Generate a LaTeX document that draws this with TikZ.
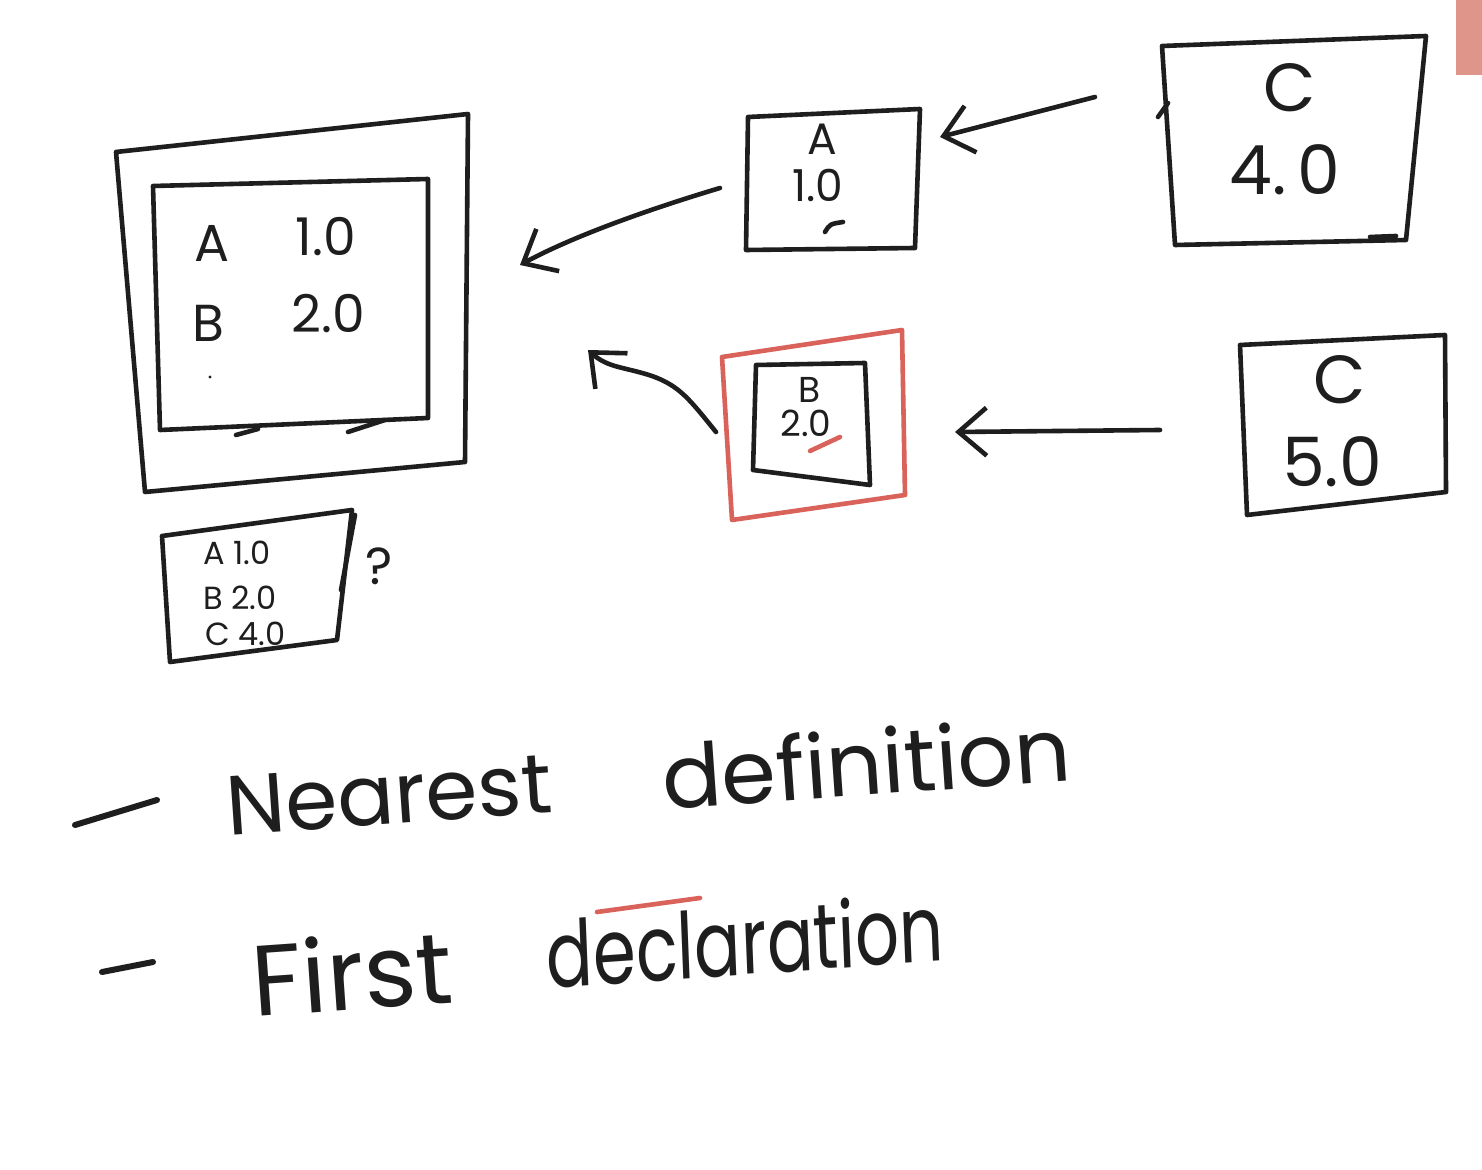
\documentclass[tikz,border=0pt]{standalone}
\usepackage{fontspec}
\setmainfont{Poppins}
\usetikzlibrary{arrows.meta}
\definecolor{redline}{HTML}{D9625A}
\definecolor{pinktab}{HTML}{E0958A}
\definecolor{inkc}{HTML}{1E1E1E}
\begin{document}
\begin{tikzpicture}[x=0.5pt,y=-0.5pt,
  ink/.style={line width=2.3pt, line cap=round, line join=round, draw=inkc},
  redink/.style={line width=2.3pt, line cap=round, line join=round, draw=redline},
  hw/.style={font=\fontsize{26}{28}\selectfont, text=inkc, inner sep=0pt},
  hwmid/.style={font=\fontsize{22}{24}\selectfont, text=inkc, inner sep=0pt},
  hwb/.style={font=\fontsize{18}{20}\selectfont, text=inkc, inner sep=0pt},
  hwbig/.style={font=\fontsize{34}{36}\selectfont, text=inkc, inner sep=0pt},
  hwsmall/.style={font=\fontsize{16}{18}\selectfont, text=inkc, inner sep=0pt},
  hwline/.style={text=inkc, inner sep=0pt},
  barb/.style={-{Straight Barb[length=14pt,width=24pt,line width=2.3pt]}}
]
\useasboundingbox[fill=white] (0,0) rectangle (1482,1170);
% pink tab at top right
\fill[pinktab] (1456,0) rectangle (1482,75);

% ---------- big outer box with inner table ----------
\coordinate (o1) at (116,152); \coordinate (o2) at (468,114);
\coordinate (o3) at (465,462); \coordinate (o4) at (145,492);
\draw[ink] (o1) -- (o2) -- (o3) -- (o4) -- cycle;
\coordinate (i1) at (153,186); \coordinate (i2) at (428,179);
\coordinate (i3) at (428,418); \coordinate (i4) at (160,430);
\draw[ink] (i1) -- (i2) -- (i3) -- (i4) -- cycle;
\draw[ink] (236,435) -- (258,429);
\draw[ink] (348,432) -- (385,420);
\node[hw] (tA) at (212,243) {A};
\node[hw] (tA1) at (326,237) {1.0};
\node[hw] (tB) at (208,323) {B};
\node[hw] (tB2) at (328,314) {2.0};
\fill[inkc] (210,377) circle (1.6);
\coordinate (bigin) at (520,265);
\coordinate (bigin2) at (588,350);

% ---------- box A ----------
\coordinate (a1) at (748,117); \coordinate (a2) at (920,109);
\coordinate (a3) at (915,248); \coordinate (a4) at (746,250);
\draw[ink] (a1) -- (a2) -- (a3) -- (a4) -- cycle;
\node[hwmid] (boxA) at (822,139) {A};
\node[hwmid] (boxA1) at (818,185) {1.0};
\draw[ink] (825,232) .. controls (830,224) .. (843,222);
\coordinate (aleft) at (720,188);
\coordinate (aright) at (940,137);

% ---------- box C (4.0) ----------
\coordinate (c1) at (1162,46); \coordinate (c2) at (1426,36);
\coordinate (c3) at (1406,240); \coordinate (c4) at (1175,245);
\draw[ink] (c1) -- (c2) -- (c3) -- (c4) -- cycle;
\draw[ink] (1158,117) -- (1168,103);
\draw[ink] (1370,237) -- (1396,236);
\node[hwbig] (boxC) at (1290,88) {C};
\node[hwbig] (boxC4) at (1285,170) {4.\,0};
\coordinate (cleft) at (1095,97);

% ---------- box C (5.0) ----------
\coordinate (d1) at (1240,345); \coordinate (d2) at (1445,335);
\coordinate (d3) at (1446,492); \coordinate (d4) at (1247,515);
\draw[ink] (d1) -- (d2) -- (d3) -- (d4) -- cycle;
\node[hwbig] (boxD) at (1340,380) {C};
\node[hwbig] (boxD5) at (1332,462) {5.0};
\coordinate (dleft) at (1160,430);

% ---------- box B inside red box ----------
\coordinate (r1) at (722,357); \coordinate (r2) at (902,330);
\coordinate (r3) at (905,495); \coordinate (r4) at (732,520);
\draw[redink] (r1) -- (r2) -- (r3) -- (r4) -- cycle;
\coordinate (b1) at (756,365); \coordinate (b2) at (865,363);
\coordinate (b3) at (870,485); \coordinate (b4) at (753,470);
\draw[ink] (b1) -- (b2) -- (b3) -- (b4) -- cycle;
\node[hwb] (boxB) at (810,390) {B};
\node[hwb] (boxB2) at (806,423) {2.0};
\draw[redink] (810,451) -- (840,437);
\coordinate (rleft) at (716,432);
\coordinate (rright) at (955,432);

% ---------- connectors ----------
\draw[ink,barb] (cleft) -- (aright);
\draw[ink,barb] (aleft) .. controls (640,212) and (570,238) .. (bigin);
\draw[ink,barb] (dleft) -- (rright);
\draw[ink,barb] (rleft) .. controls (690,400) and (680,386) .. (652,376)
  .. controls (625,367) and (608,368) .. (bigin2);

% ---------- small summary box ----------
\coordinate (s1) at (162,536); \coordinate (s2) at (352,510);
\coordinate (s3) at (337,640); \coordinate (s4) at (170,662);
\draw[ink] (s1) -- (s2) -- (s3) -- (s4) -- cycle;
\draw[ink] (355,515) -- (341,590);
\node[hwsmall,anchor=west] (sA) at (203,553) {A 1.0};
\node[hwsmall,anchor=west] (sB) at (203,598) {B 2.0};
\node[hwsmall,anchor=west] (sC) at (205,634) {C 4.0};
\node[hw] (q) at (379,566) {?};

% ---------- bottom notes ----------
\draw[ink, line width=3pt] (75,825) -- (157,800);
\node[hwline,font=\fontsize{42}{44}\selectfont,rotate=4] (near) at (389,795) {Nearest};
\node[hwline,font=\fontsize{44}{46}\selectfont,rotate=4] (defi) at (866,762) {definition};
\draw[ink, line width=3pt] (102,972) -- (153,962);
\node[hwline,font=\fontsize{50}{52}\selectfont,rotate=4] (first) at (352,972) {First};
\node[hwline,font=\fontsize{46}{48}\selectfont,xscale=0.75,rotate=3] (decl) at (745,940) {declaration};
\draw[redink] (597,912) -- (700,898);
\end{tikzpicture}
\end{document}
